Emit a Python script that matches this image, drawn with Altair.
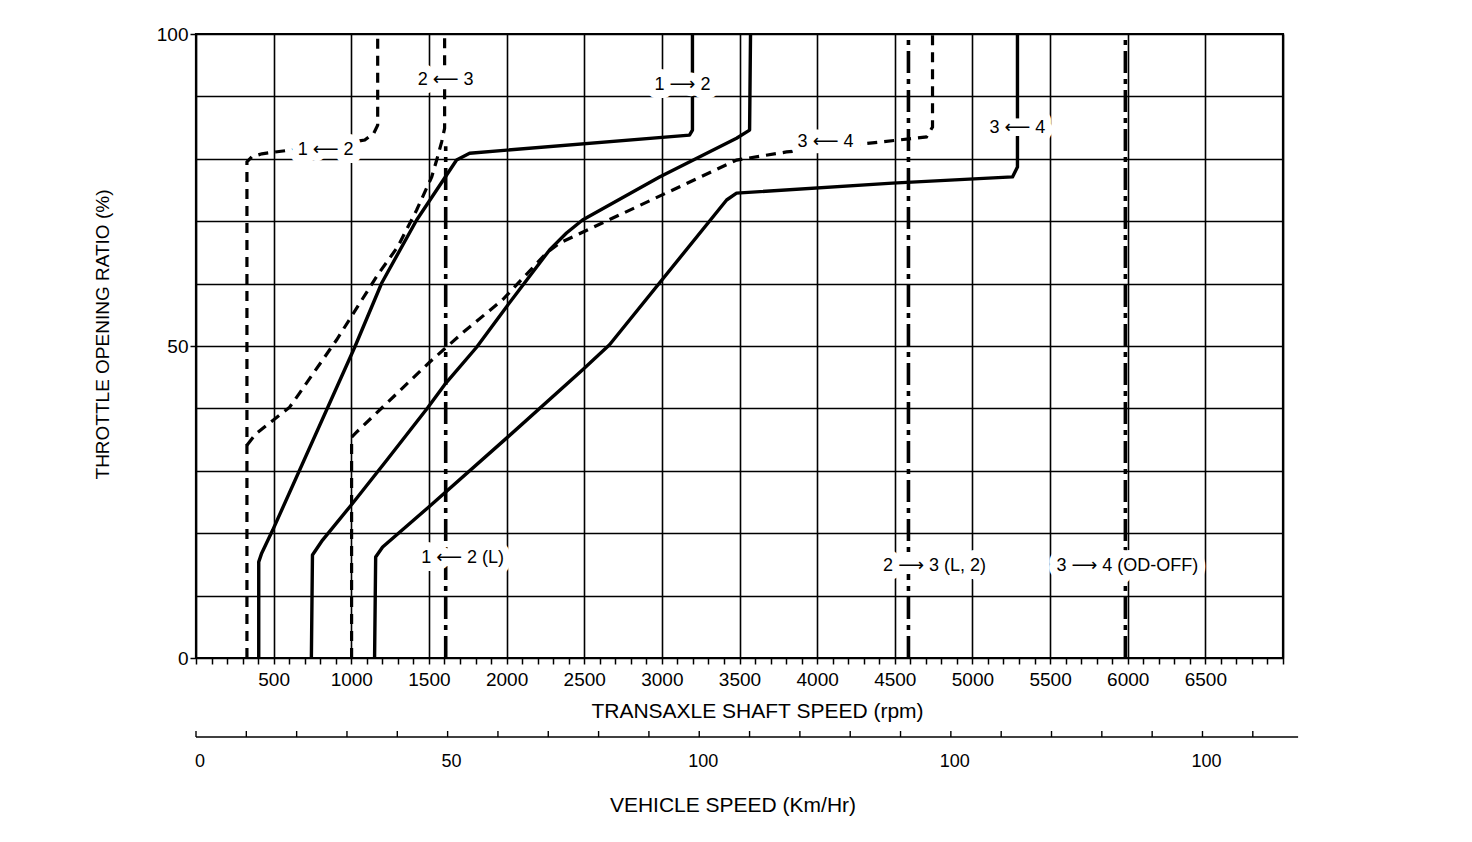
import altair as alt
import pandas as pd

FONT = "Liberation Sans"
LABEL_FONT = "Liberation Sans, DejaVu Sans"

# ---------------- data (transaxle shaft speed rpm, throttle %) ----------------
up12_rpm = [404, 404, 423, 494, 1022, 1196, 1421, 1614, 1678, 1762, 3178, 3197, 3197]
up12_pct = [0, 15.4, 16.8, 20.5, 49.8, 60.1, 70.2, 77.4, 79.8, 80.9, 83.8, 84.6, 100]

up23_rpm = [743, 750, 815, 1009, 1228, 1492, 1601, 1807, 2000, 2277, 2386, 2489, 2985, 3481, 3565, 3571]
up23_pct = [0, 16.5, 18.9, 24.8, 31.7, 40.1, 43.8, 49.8, 56.3, 65.4, 68.1, 70.2, 77.1, 83.3, 84.6, 100]

up34_rpm = [1150, 1157, 1202, 1499, 2007, 2490, 2663, 3417, 3481, 4485, 5258, 5290, 5290]
up34_pct = [0, 16.2, 17.8, 24.2, 35.4, 46.2, 50.2, 73.4, 74.5, 76.1, 77.1, 78.7, 100]

dn12_rpm = [328, 328, 359, 424, 1087, 1145, 1170, 1170]
dn12_pct = [0, 79.5, 80.3, 80.8, 83.0, 84.1, 85.4, 100]

dn23_rpm = [328, 385, 603, 668, 906, 1170, 1299, 1421, 1518, 1550, 1582, 1601, 1601]
dn23_pct = [34.1, 35.9, 40.2, 42.5, 51.0, 61.4, 65.9, 71.8, 77.1, 79.8, 82.7, 84.9, 100]

dn34_rpm = [1002, 1002, 1034, 1504, 1716, 1974, 2257, 2341, 3481, 3803, 4228, 4704, 4743, 4743]
dn34_pct = [0, 35.4, 36.2, 47.4, 52.1, 57.4, 64.9, 66.5, 79.8, 81.1, 82.2, 83.5, 85.1, 100]

l12_rpm = [1608, 1608]
l12_pct = [0, 82]
l23_rpm = [4588, 4588]
l23_pct = [0, 100]
od34_rpm = [5985, 5985]
od34_pct = [0, 100]

ann_text = ["2 ⟵ 3", "1 ⟵ 2", "1 ⟶ 2", "3 ⟵ 4", "3 ⟵ 4",
            "1 ⟵ 2 (L)", "2 ⟶ 3 (L, 2)", "3 ⟶ 4 (OD-OFF)"]
ann_rpm = [1608, 835, 3133, 4054, 5290, 1717, 4756, 5998]
ann_pct = [92.6, 81.4, 91.8, 82.7, 84.9, 16.0, 14.7, 14.7]

rpm_ticks = list(range(0, 7001, 100))
rpm_labels = list(range(500, 6501, 500))
pct_grid = list(range(0, 101, 10))
pct_labels = [0, 50, 100]

kmh_ticks = list(range(0, 211, 10))
kmh_label_pos = [0, 50, 100, 150, 200]
kmh_label_text = ["0", "50", "100", "100", "100"]
kmh_domain = [0, 216]
kmh_line = [0, 219]

# ---------------- tables ----------------
def series(name, rpm, pct):
    return pd.DataFrame({"series": name, "rpm": rpm, "pct": pct, "idx": range(len(rpm))})

solid_df = pd.concat([series("1→2", up12_rpm, up12_pct),
                      series("2→3", up23_rpm, up23_pct),
                      series("3→4", up34_rpm, up34_pct)])
dash_df = pd.concat([series("1←2", dn12_rpm, dn12_pct),
                     series("2←3", dn23_rpm, dn23_pct),
                     series("3←4", dn34_rpm, dn34_pct)])
dd_df = pd.concat([series("1←2 L", l12_rpm, l12_pct),
                   series("2→3 L2", l23_rpm, l23_pct),
                   series("3→4 OD", od34_rpm, od34_pct)])
ann_df = pd.DataFrame({"text": ann_text, "rpm": ann_rpm, "pct": ann_pct})

W, H = 1087, 624

x_enc = alt.X("rpm:Q",
              scale=alt.Scale(domain=[0, 7000], nice=False, zero=False),
              axis=alt.Axis(values=rpm_ticks, format="d",
                            labelExpr="indexof(" + str(rpm_labels) + ", datum.value) >= 0 ? datum.label : ''",
                            labelOverlap=False, labelFlush=False,
                            labelFont=FONT, labelFontSize=19, labelColor="black",
                            labelPadding=6,
                            tickColor="black", tickWidth=1.5, tickSize=6,
                            grid=True, gridColor="black", gridWidth=1.6,
                            gridOpacity={"condition": {"test": "datum.value % 500 === 0", "value": 1}, "value": 0},
                            domain=False,
                            title="TRANSAXLE SHAFT SPEED (rpm)",
                            titleFont=FONT, titleFontSize=21, titleFontWeight="normal",
                            titleColor="black", titleX=561, titleY=53,
                            titleBaseline="middle", titleAlign="center"))
y_enc = alt.Y("pct:Q",
              scale=alt.Scale(domain=[0, 100], nice=False, zero=False),
              axis=alt.Axis(values=pct_grid,
                            labelExpr="indexof(" + str(pct_labels) + ", datum.value) >= 0 ? datum.label : ''",
                            labelOverlap=False, labelFlush=False,
                            labelFont=FONT, labelFontSize=19, labelColor="black",
                            labelPadding=2,
                            tickColor="black", tickWidth=1.5, tickSize=6,
                            tickOpacity={"condition": {"test": "datum.value % 50 === 0", "value": 1}, "value": 0},
                            grid=True, gridColor="black", gridWidth=1.6,
                            domain=False,
                            title="THROTTLE OPENING RATIO (%)",
                            titleFont=FONT, titleFontSize=19, titleFontWeight="normal",
                            titleColor="black", titleX=-94, titleY=300, titleAngle=270,
                            titleBaseline="middle", titleAlign="center"))

solid = alt.Chart(solid_df).mark_line(color="black", strokeWidth=3.4, strokeJoin="round").encode(
    x=x_enc, y=y_enc, detail="series:N", order="idx:Q")
dashed = alt.Chart(dash_df).mark_line(color="black", strokeWidth=3.2, strokeDash=[10, 7]).encode(
    x=x_enc, y=y_enc, detail="series:N", order="idx:Q")
dashdot = alt.Chart(dd_df).mark_line(color="black", strokeWidth=3.6, strokeDash=[22, 6, 5, 6]).encode(
    x=x_enc, y=y_enc, detail="series:N", order="idx:Q")

halo = alt.Chart(ann_df).mark_text(font=LABEL_FONT, fontSize=18, color="white", stroke="white",
                                   strokeWidth=16, strokeJoin="round").encode(
    x=x_enc, y=y_enc, text="text:N")
labels = alt.Chart(ann_df).mark_text(font=LABEL_FONT, fontSize=18, color="black").encode(
    x=x_enc, y=y_enc, text="text:N")

main = alt.layer(solid, dashed, dashdot, halo, labels)

# ---------------- vehicle speed scale ----------------
kx = alt.Scale(domain=kmh_domain, nice=False, zero=False)
base_df = pd.DataFrame({"kmh": [kmh_line[0]], "kmh2": [kmh_line[1]]})
tick_df = pd.DataFrame({"kmh": kmh_ticks})
klab_df = pd.DataFrame({"kmh": kmh_label_pos, "label": kmh_label_text})

vbase = alt.Chart(base_df).mark_rule(color="black", strokeWidth=1.6).encode(
    x=alt.X("kmh:Q", scale=kx, axis=None), x2="kmh2:Q", y=alt.value(703))
vticks = alt.Chart(tick_df).mark_rule(color="black", strokeWidth=1.4).encode(
    x=alt.X("kmh:Q", scale=kx, axis=None), y=alt.value(697), y2=alt.value(703))
vlabels = alt.Chart(klab_df).mark_text(font=FONT, fontSize=18, color="black", baseline="middle", dx=4).encode(
    x=alt.X("kmh:Q", scale=kx, axis=None), y=alt.value(728), text="label:N")
vtitle = alt.Chart(pd.DataFrame({"t": ["VEHICLE SPEED (Km/Hr)"]})).mark_text(
    font=FONT, fontSize=21, color="black", baseline="middle").encode(
    x=alt.value(537), y=alt.value(772), text="t:N")

secondary = alt.layer(vbase, vticks, vlabels, vtitle)

chart = alt.layer(main, secondary).resolve_scale(x="independent").properties(
    width=W, height=H,
    autosize=alt.AutoSizeParams(type="none"),
    padding={"left": 188, "top": 26, "right": 170, "bottom": 170},
    background="white",
).configure_view(stroke="black", strokeWidth=2.2)

chart.save("out.html", embed_options={"renderer": "svg", "actions": False})
